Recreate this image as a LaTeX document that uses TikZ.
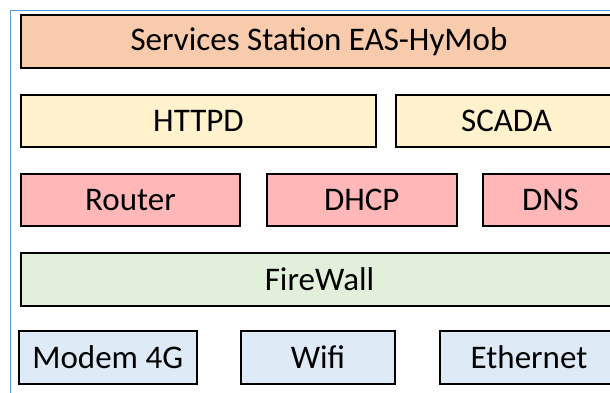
\documentclass[tikz,border=0pt]{standalone}
\usepackage{fontspec}
\setmainfont{Carlito}
\definecolor{frameblue}{HTML}{5B9BD5}
\definecolor{cservice}{HTML}{F8CBAD}
\definecolor{capp}{HTML}{FFF2CC}
\definecolor{cnet}{HTML}{FFB7B7}
\definecolor{cfw}{HTML}{E2EFDA}
\definecolor{clink}{HTML}{DEEBF7}
\begin{document}
\begin{tikzpicture}[x=1pt,y=-1pt,
  layerbox/.style={draw=black, line width=2pt, rectangle, inner sep=0pt,
    font=\fontsize{33}{39}\selectfont, text=black}]
\useasboundingbox (0,0) rectangle (610,392);
\clip (0,0) rectangle (610,392);
\draw[frameblue, line width=1.5pt] (10.5,10.5) rectangle (628,405);
% row 1
\node[layerbox, fill=cservice, minimum width=596pt, minimum height=53pt] (svc) at (319,41.75) {Services Station EAS-HyMob};
% row 2
\node[layerbox, fill=capp, minimum width=355pt, minimum height=52pt] (httpd) at (198.5,121) {HTTPD};
\node[layerbox, fill=capp, minimum width=221pt, minimum height=52pt] (scada) at (506.5,121) {SCADA};
% row 3
\node[layerbox, fill=cnet, minimum width=219pt, minimum height=52.5pt] (router) at (130.5,199.75) {Router};
\node[layerbox, fill=cnet, minimum width=189.5pt, minimum height=52.5pt] (dhcp) at (361.75,199.75) {DHCP};
\node[layerbox, fill=cnet, minimum width=135pt, minimum height=52.5pt] (dns) at (550.5,199.75) {DNS};
% row 4
\node[layerbox, fill=cfw, minimum width=597pt, minimum height=53pt] (fw) at (319.5,279) {FireWall};
% row 5
\node[layerbox, fill=clink, minimum width=178.5pt, minimum height=52.5pt] (modem) at (107.75,357.25) {Modem 4G};
\node[layerbox, fill=clink, minimum width=154pt, minimum height=52.5pt] (wifi) at (318,357.25) {Wifi};
\node[layerbox, fill=clink, minimum width=178pt, minimum height=52.5pt] (eth) at (529,357.25) {Ethernet};
\end{tikzpicture}
\end{document}
